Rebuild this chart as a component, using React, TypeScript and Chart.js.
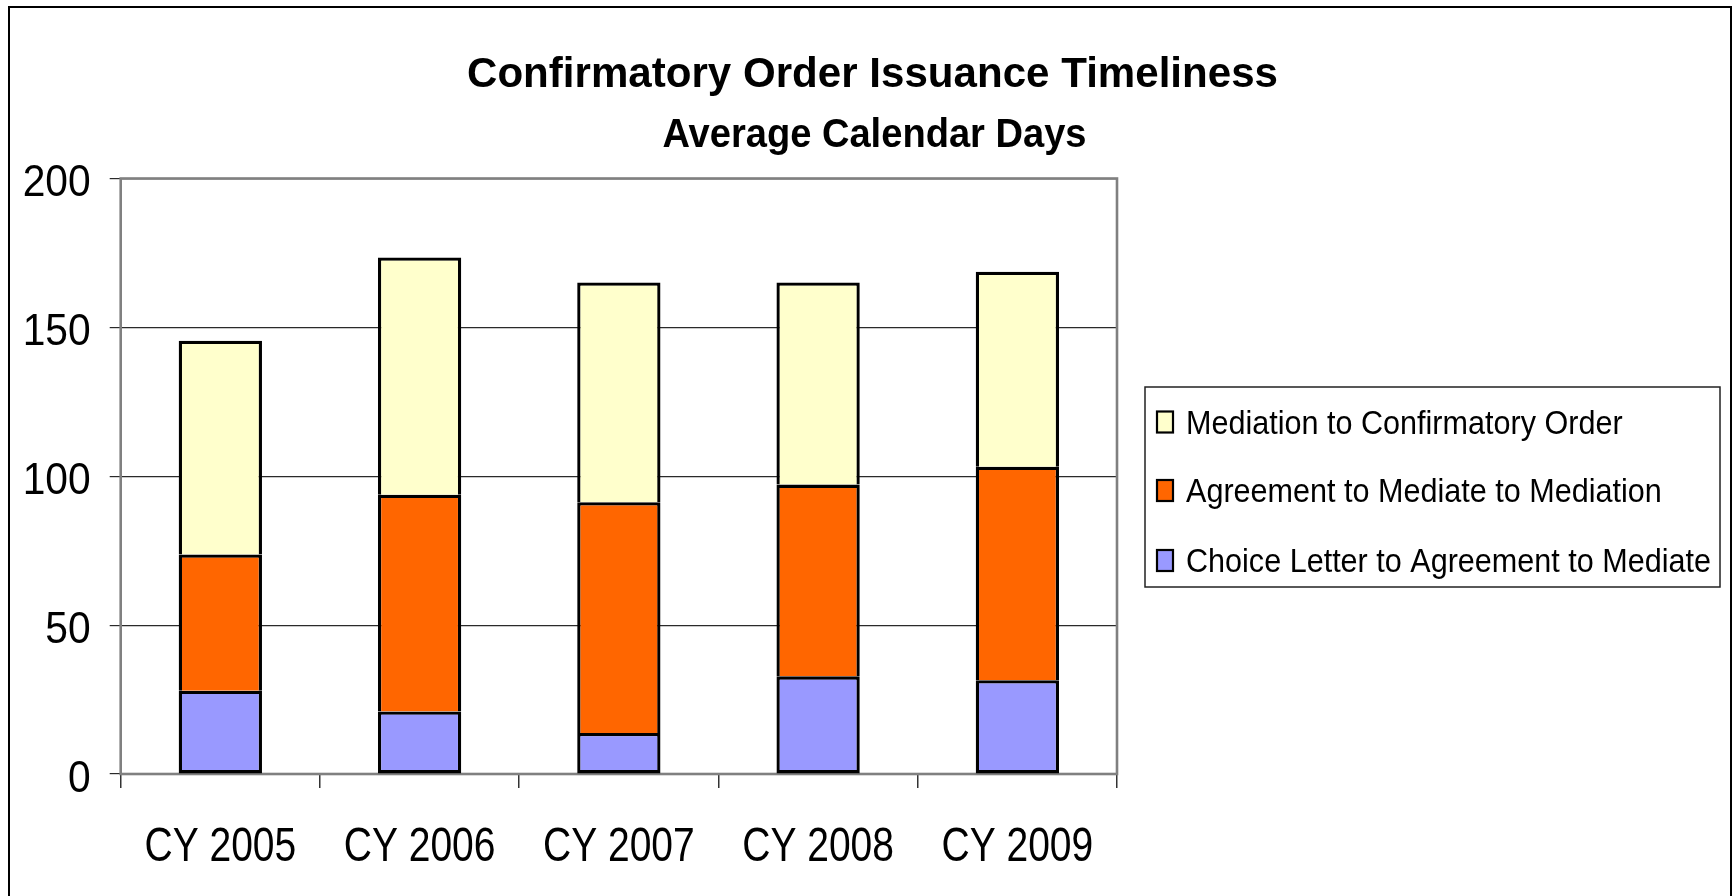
import React, { useEffect, useRef } from "react";
import { Chart, registerables } from "chart.js";

Chart.register(...registerables);

const categories = ["CY 2005", "CY 2006", "CY 2007", "CY 2008", "CY 2009"];
const choiceLetterToAgreement = [28, 21, 13.8, 32.8, 31.5];
const agreementToMediation = [45.7, 72.8, 77.5, 64.4, 71.7];
const mediationToOrder = [71.8, 79.7, 73.8, 67.9, 65.5];
const yTicks = [0, 50, 100, 150, 200];
const seriesLabels = [
  "Choice Letter to Agreement to Mediate",
  "Agreement to Mediate to Mediation",
  "Mediation to Confirmatory Order",
];
const seriesColors = ["#9999FF", "#FF6600", "#FFFFCC"];
const titleText = "Confirmatory Order Issuance Timeliness";
const subtitleText = "Average Calendar Days";

const FONT = '"Liberation Sans", Arial, sans-serif';

function drawScaled(
  ctx: CanvasRenderingContext2D,
  text: string,
  x: number,
  y: number,
  font: string,
  scaleX: number,
  align: "left" | "center" | "right"
) {
  ctx.save();
  ctx.font = font;
  ctx.fillStyle = "#000";
  ctx.textBaseline = "alphabetic";
  const w = ctx.measureText(text).width * scaleX;
  let sx = x;
  if (align === "center") sx = x - w / 2;
  if (align === "right") sx = x - w;
  ctx.translate(sx, y);
  ctx.scale(scaleX, 1);
  ctx.textAlign = "left";
  ctx.fillText(text, 0, 0);
  ctx.restore();
}

function scaleFor(ctx: CanvasRenderingContext2D, text: string, font: string, target: number) {
  ctx.save();
  ctx.font = font;
  const w = ctx.measureText(text).width;
  ctx.restore();
  return target / w;
}

const framePlugin = {
  id: "frame",
  beforeDatasetsDraw(chart: any) {
    const ctx = chart.ctx as CanvasRenderingContext2D;
    const { left, top, right, bottom } = chart.chartArea;
    ctx.save();
    ctx.strokeStyle = "#808080";
    ctx.lineWidth = 2.6;
    ctx.strokeRect(left, top, right - left, bottom - top);
    ctx.restore();
  },
  afterDraw(chart: any) {
    const ctx = chart.ctx as CanvasRenderingContext2D;
    // outer border
    ctx.save();
    ctx.strokeStyle = "#000";
    ctx.lineWidth = 2;
    ctx.strokeRect(9, 7, 1722, 1000);
    ctx.restore();

    // titles
    const tFont = `bold 43px ${FONT}`;
    drawScaled(ctx, titleText, 872.5, 87, tFont, scaleFor(ctx, titleText, tFont, 811), "center");
    const sFont = `bold 40px ${FONT}`;
    drawScaled(ctx, subtitleText, 874.5, 147, sFont, scaleFor(ctx, subtitleText, sFont, 424), "center");

    // y tick labels
    const yScale = chart.scales.y;
    const yFont = `44.7px ${FONT}`;
    const ySx = scaleFor(ctx, "200", yFont, 68);
    yTicks.forEach((v) => {
      const py = yScale.getPixelForValue(v);
      drawScaled(ctx, String(v), 90.7, py + 17.5, yFont, ySx, "right");
    });

    // x tick labels
    const xScale = chart.scales.x;
    const xFont = `48px ${FONT}`;
    const xSx = scaleFor(ctx, "CY 2005", xFont, 151.7);
    categories.forEach((c, i) => {
      const px = xScale.getPixelForValue(i);
      drawScaled(ctx, c, px, 861, xFont, xSx, "center");
    });

    // legend
    ctx.save();
    ctx.strokeStyle = "#222";
    ctx.lineWidth = 1.5;
    ctx.strokeRect(1145, 387, 575, 200);
    ctx.restore();
    const lFont = `32.5px ${FONT}`;
    const lSx = scaleFor(ctx, seriesLabels[0], lFont, 525);
    const ds = chart.data.datasets;
    const order = [2, 1, 0];
    const centers = [422, 490.5, 560.5];
    order.forEach((di, row) => {
      const cy = centers[row];
      ctx.save();
      ctx.fillStyle = ds[di].backgroundColor;
      ctx.fillRect(1157, cy - 10.5, 16, 21);
      ctx.strokeStyle = "#000";
      ctx.lineWidth = 2.2;
      ctx.strokeRect(1157, cy - 10.5, 16, 21);
      ctx.restore();
      drawScaled(ctx, ds[di].label, 1186, cy + 11.5, lFont, lSx, "left");
    });
  },
};

export default function App() {
  const canvasRef = useRef<HTMLCanvasElement | null>(null);

  useEffect(() => {
    const canvas = canvasRef.current;
    if (!canvas) return;
    const seriesValues = [choiceLetterToAgreement, agreementToMediation, mediationToOrder];
    const chart = new Chart(canvas, {
      type: "bar",
      data: {
        labels: categories,
        datasets: seriesValues.map((vals, i) => ({
          label: seriesLabels[i],
          data: vals,
          backgroundColor: seriesColors[i],
          borderColor: "#000",
          borderWidth: 3.3,
          borderSkipped: i === 0 ? false : "start",
          categoryPercentage: 1,
          barPercentage: 0.418,
        })),
      },
      options: {
        responsive: false,
        animation: false,
        devicePixelRatio: 1,
        layout: { padding: { left: 0, top: 178.5, right: 617, bottom: 0 } },
        plugins: {
          legend: { display: false },
          title: { display: false },
          tooltip: { enabled: false },
        },
        scales: {
          x: {
            stacked: true,
            offset: true,
            border: { display: false },
            grid: {
              offset: true,
              drawOnChartArea: false,
              drawTicks: true,
              tickLength: 14,
              color: "#333",
              lineWidth: 1.5,
            },
            ticks: { display: false },
            afterFit: (scale: any) => {
              scale.height = 122;
            },
          },
          y: {
            stacked: true,
            min: 0,
            max: 200,
            border: { display: false },
            grid: {
              drawTicks: true,
              tickLength: 11,
              color: "#2a2a2a",
              lineWidth: 1.2,
            },
            ticks: { display: false, stepSize: 50 },
            afterFit: (scale: any) => {
              scale.width = 120.7;
            },
          },
        },
      },
      plugins: [framePlugin],
    });
    return () => chart.destroy();
  }, []);

  return (
    <div style={{ position: "fixed", left: 0, top: 0, width: 1734, height: 896, background: "#fff" }}>
      <canvas ref={canvasRef} width={1734} height={896} style={{ width: 1734, height: 896, display: "block" }} />
    </div>
  );
}
